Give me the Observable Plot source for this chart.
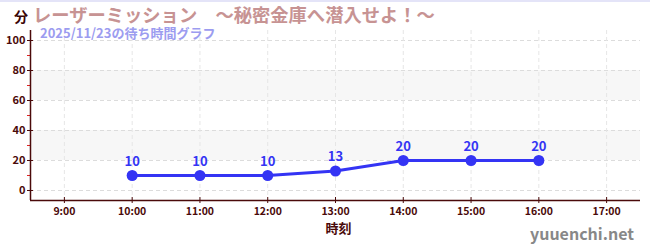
<!DOCTYPE html>
<html><head><meta charset="utf-8">
<script src="https://cdn.jsdelivr.net/npm/d3@7"></script>
<script src="https://cdn.jsdelivr.net/npm/@observablehq/plot@0.6"></script>
<style>
body{margin:0;background:#fff;}
#wrap{position:relative;width:650px;height:250px;font-family:"Noto Sans CJK JP","Noto Sans",sans-serif;border-top:2px solid #e4e4f8;box-sizing:border-box;}
#wrap svg{position:absolute;left:0;top:-2px;}
.t{position:absolute;white-space:nowrap;font-weight:bold;line-height:1;}
</style></head>
<body><div id="wrap"></div>
<script>
const hours = [10, 11, 12, 13, 14, 15, 16];
const waits = [10, 10, 10, 13, 20, 20, 20];
const xTicks = [9, 10, 11, 12, 13, 14, 15, 16, 17];
const yTicks = [0, 20, 40, 60, 80, 100];
const yMinor = [10, 30, 50, 70, 90];
const bandFrom = [20, 60];
const bandTo = [40, 80];
const title = "レーザーミッション　～秘密金庫へ潜入せよ！～";
const subtitle = "2025/11/23の待ち時間グラフ";
const unit = "分";
const xLabel = "時刻";
const site = "yuuenchi.net";

const data = hours.map((h, i) => ({h, w: waits[i]}));
const bands = bandFrom.map((a, i) => ({a, b: bandTo[i]}));
const xDom = [8.5, 17.5], yDom = [-6.667, 106.667];
const dark = "#4a0a0a";

const chart = Plot.plot({
  width: 650, height: 250,
  marginLeft: 30, marginRight: 10, marginTop: 30, marginBottom: 50,
  style: {fontFamily: '"Noto Sans CJK JP","Noto Sans",sans-serif', background: "transparent"},
  x: {domain: xDom}, y: {domain: yDom},
  marks: [
    Plot.rect(bands, {x1: xDom[0], x2: xDom[1], y1: "a", y2: "b", fill: "#f7f7f7"}),
    Plot.gridY(yTicks, {stroke: "#dcdcdc", strokeOpacity: 1, strokeDasharray: "4,3"}),
    Plot.gridX(xTicks, {stroke: "#e6e6e6", strokeOpacity: 1, strokeDasharray: "4,3"}),
    Plot.axisY(yMinor, {tickSize: 3, stroke: "#e02020", text: null, label: null}),
    Plot.axisY(yTicks, {tickSize: 3, tickPadding: 2, stroke: dark, fill: dark, fontSize: 11, fontWeight: "bold", label: null}),
    Plot.axisY(yTicks, {tickSize: -3, stroke: dark, text: null, label: null}),
    Plot.axisX(xTicks, {tickSize: 3, tickPadding: 4, stroke: dark, fill: dark, fontSize: 10.5, fontWeight: "bold", tickFormat: d => d + ":00", label: null}),
    Plot.axisX(xTicks, {tickSize: -3, stroke: dark, text: null, label: null}),
    Plot.ruleX([xDom[0]], {stroke: dark, strokeWidth: 1.5}),
    Plot.ruleY([yDom[0]], {stroke: dark, strokeWidth: 1.5}),
    Plot.line(data, {x: "h", y: "w", stroke: "#3434f4", strokeWidth: 3}),
    Plot.dot(data, {x: "h", y: "w", r: 5.5, fill: "#3434f4"}),
    Plot.text(data, {x: "h", y: "w", text: d => String(d.w), dy: -14, fill: "#3434f4", fontSize: 13, fontWeight: "bold"}),
    Plot.text([xLabel], {frameAnchor: "bottom", dx: 3, dy: 32, fill: dark, fontSize: 13, fontWeight: "bold"})
  ]
});
const wrap = document.getElementById("wrap");
wrap.appendChild(chart);
function addText(s, css) {
  const d = document.createElement("div");
  d.className = "t"; d.textContent = s;
  Object.assign(d.style, css);
  wrap.appendChild(d);
}
addText(unit, {left: "14px", top: "7px", fontSize: "14px", color: "#3a0505"});
addText(title, {left: "33px", top: "3px", fontSize: "18.3px", color: "#c79393"});
addText(subtitle, {left: "40px", top: "24px", fontSize: "13px", color: "#9c9cf0"});
addText(site, {right: "16px", top: "223px", fontSize: "16px", color: "#888888"});
</script></body></html>
